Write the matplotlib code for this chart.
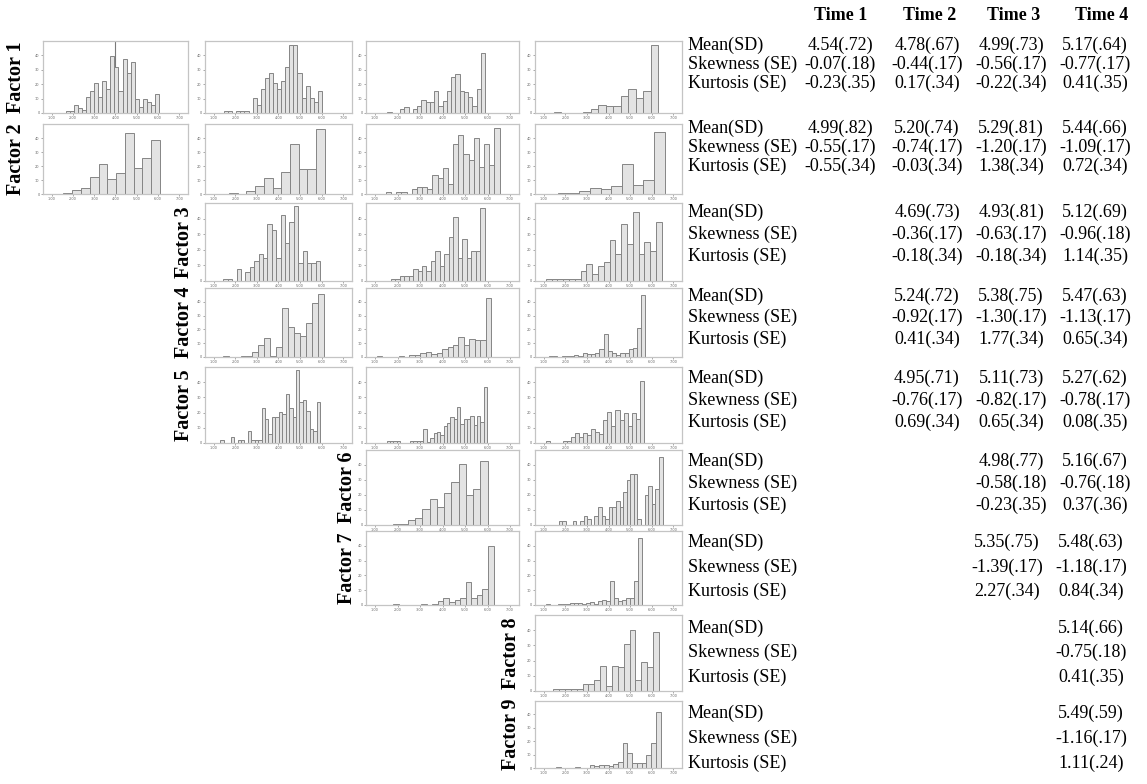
import matplotlib
matplotlib.use("Agg")
import matplotlib.pyplot as plt
import numpy as np

# bar heights (percent of panel height); bins span lo..hi
f1_t1 = [3, 3, 11, 7, 4, 22, 30, 41, 22, 45, 34, 79, 64, 31, 75, 56, 71, 19, 8, 19, 15, 11, 26]
f1_t2 = [3, 3, 0, 3, 3, 3, 0, 21, 11, 33, 49, 56, 41, 33, 45, 64, 94, 94, 56, 21, 37, 21, 15, 30]
f1_t3 = [2, 0, 0, 5, 8, 0, 5, 10, 18, 15, 15, 31, 10, 17, 31, 50, 54, 31, 29, 22, 10, 33, 83]
f1_t4 = [1, 0, 0, 0, 1.5, 5, 11, 10, 10, 24, 34, 21, 30, 94]
f2_t1 = [2, 6, 8, 24, 43, 21, 30, 87, 37, 52, 77]
f2_t2 = [1, 0, 5, 11, 23, 8, 31, 72, 36, 36, 93]
f2_t3 = [3, 0, 3, 3, 0, 7, 10, 10, 7, 27, 23, 37, 15, 72, 84, 57, 49, 80, 38, 72, 42, 95]
f2_t4 = [1, 1, 5, 9, 7, 12, 43, 13, 20, 88]
f3_t2 = [3, 3, 0, 15, 0, 11, 18, 26, 34, 30, 73, 65, 30, 85, 49, 76, 96, 23, 38, 23, 23, 26]
f3_t3 = [3, 3, 6, 6, 6, 16, 13, 19, 13, 26, 38, 19, 35, 57, 82, 29, 54, 29, 38, 38, 94]
f3_t4 = [3, 3, 3, 3, 3, 3, 13, 22, 9, 19, 25, 53, 35, 73, 48, 89, 35, 50, 38, 76]
f4_t2 = [2, 0, 0, 1, 2, 7, 17, 28, 2, 14, 71, 43, 35, 31, 49, 78, 92]
f4_t3 = [2, 0, 0, 0, 2, 0, 3, 3, 6, 7, 4, 6, 12, 15, 18, 29, 17, 26, 24, 25, 85]
f4_t4 = [1, 1, 0, 1, 1, 2, 3, 2, 6, 5, 5, 6, 12, 34, 9, 6, 3, 6, 6, 12, 13, 42, 90]
f5_t2 = [4, 0, 0, 8, 0, 4, 4, 0, 16, 4, 4, 4, 46, 31, 12, 34, 34, 41, 38, 65, 46, 34, 96, 54, 57, 42, 19, 16, 54]
f5_t3 = [3, 3, 3, 3, 0, 0, 0, 3, 3, 3, 3, 18, 1, 7, 13, 14, 10, 22, 26, 34, 32, 48, 25, 32, 32, 35, 24, 36, 27, 74]
f5_t4 = [3, 0, 0, 0, 3, 3, 8, 13, 8, 13, 10, 18, 14, 12, 30, 41, 22, 43, 30, 39, 22, 39, 31, 82]
f6_t3 = [2, 2, 7, 9, 21, 35, 24, 43, 57, 81, 40, 48, 86]
f6_t4 = [5, 5, 0, 0, 5, 0, 5, 12, 8, 0, 12, 24, 12, 8, 24, 24, 32, 24, 44, 60, 68, 68, 8, 0, 40, 52, 28, 48, 91]
f7_t3 = [1, 0, 0, 0, 0, 1, 0, 2, 5, 9, 4, 7, 9, 31, 10, 13, 21, 80]
f7_t4 = [1, 0, 0, 1, 1, 1, 3, 3, 3, 1, 3, 4, 1, 5, 7, 6, 33, 9, 5, 7, 9, 9, 33, 90]
f8_t4 = [2, 2, 2, 2, 2, 9, 9, 14, 33, 7, 33, 31, 62, 80, 14, 38, 31, 78]
f9_t4 = [2, 0, 0, 0, 2, 0, 0, 5, 3, 5, 5, 3, 6, 9, 37, 22, 7, 7, 7, 19, 38, 84]

# bin range (score units) for each histogram
ranges = {
    (1, 1): (1.67, 6.04), (1, 2): (1.48, 6.01), (1, 3): (1.55, 5.90), (1, 4): (1.46, 6.30),
    (2, 1): (1.56, 6.08), (2, 2): (1.70, 6.15), (2, 3): (1.48, 6.54), (2, 4): (1.67, 6.60),
    (3, 2): (1.45, 5.93), (3, 3): (1.70, 5.87), (3, 4): (1.10, 6.47),
    (4, 2): (1.42, 6.09), (4, 3): (1.08, 6.16), (4, 4): (1.25, 5.71),
    (5, 2): (1.31, 5.92), (5, 3): (1.52, 5.98), (5, 4): (1.12, 5.64),
    (6, 3): (1.81, 6.01), (6, 4): (1.69, 6.50),
    (7, 3): (1.81, 6.27), (7, 4): (1.12, 5.53),
    (8, 4): (1.44, 6.33), (9, 4): (1.59, 6.41),
}
heights = {
    (1, 1): f1_t1, (1, 2): f1_t2, (1, 3): f1_t3, (1, 4): f1_t4,
    (2, 1): f2_t1, (2, 2): f2_t2, (2, 3): f2_t3, (2, 4): f2_t4,
    (3, 2): f3_t2, (3, 3): f3_t3, (3, 4): f3_t4,
    (4, 2): f4_t2, (4, 3): f4_t3, (4, 4): f4_t4,
    (5, 2): f5_t2, (5, 3): f5_t3, (5, 4): f5_t4,
    (6, 3): f6_t3, (6, 4): f6_t4,
    (7, 3): f7_t3, (7, 4): f7_t4,
    (8, 4): f8_t4, (9, 4): f9_t4,
}
f1_t1_marker = 3.98

times = ["Time 1", "Time 2", "Time 3", "Time 4"]
stat_names = ["Mean(SD)", "Skewness (SE)", "Kurtosis (SE)"]
first_time = [1, 1, 2, 2, 2, 3, 3, 4, 4]
mean_sd = [
    ["4.54(.72)", "4.78(.67)", "4.99(.73)", "5.17(.64)"],
    ["4.99(.82)", "5.20(.74)", "5.29(.81)", "5.44(.66)"],
    ["4.69(.73)", "4.93(.81)", "5.12(.69)"],
    ["5.24(.72)", "5.38(.75)", "5.47(.63)"],
    ["4.95(.71)", "5.11(.73)", "5.27(.62)"],
    ["4.98(.77)", "5.16(.67)"],
    ["5.35(.75)", "5.48(.63)"],
    ["5.14(.66)"],
    ["5.49(.59)"],
]
skew_se = [
    ["-0.07(.18)", "-0.44(.17)", "-0.56(.17)", "-0.77(.17)"],
    ["-0.55(.17)", "-0.74(.17)", "-1.20(.17)", "-1.09(.17)"],
    ["-0.36(.17)", "-0.63(.17)", "-0.96(.18)"],
    ["-0.92(.17)", "-1.30(.17)", "-1.13(.17)"],
    ["-0.76(.17)", "-0.82(.17)", "-0.78(.17)"],
    ["-0.58(.18)", "-0.76(.18)"],
    ["-1.39(.17)", "-1.18(.17)"],
    ["-0.75(.18)"],
    ["-1.16(.17)"],
]
kurt_se = [
    ["-0.23(.35)", "0.17(.34)", "-0.22(.34)", "0.41(.35)"],
    ["-0.55(.34)", "-0.03(.34)", "1.38(.34)", "0.72(.34)"],
    ["-0.18(.34)", "-0.18(.34)", "1.14(.35)"],
    ["0.41(.34)", "1.77(.34)", "0.65(.34)"],
    ["0.69(.34)", "0.65(.34)", "0.08(.35)"],
    ["-0.23(.35)", "0.37(.36)"],
    ["2.27(.34)", "0.84(.34)"],
    ["0.41(.35)"],
    ["1.11(.24)"],
]

# layout in pixels
W, H = 1147, 784
col_px = [(43, 188), (205, 352), (366, 519), (535, 682)]
row_px = [(41, 113), (124, 194), (203, 281), (288, 357), (367, 443),
          (450, 525), (531, 605), (615, 691), (701, 768)]
label_x = [16, 16, 184, 184, 184, 347, 347, 511, 511]
text_rows = [(45, 64, 83), (128, 147, 166), (212, 234, 256), (296, 317, 339),
             (378, 400, 422), (461, 483, 505), (542, 567, 591), (628, 652, 677),
             (713, 738, 763)]
value_x = [840, 927, 1011, 1095]
header_x = [841, 930, 1014, 1102]

serif = ["Liberation Serif", "DejaVu Serif"]
fig = plt.figure(figsize=(W / 100, H / 100), dpi=100)

for (fac, t), hs in heights.items():
    x0, x1 = col_px[t - 1]
    y0, y1 = row_px[fac - 1]
    ax = fig.add_axes([x0 / W, 1 - y1 / H, (x1 - x0) / W, (y1 - y0) / H])
    lo, hi = ranges[(fac, t)]
    edges = np.linspace(lo, hi, len(hs) + 1)
    hs = np.array(hs, dtype=float)
    keep = hs > 0
    ax.bar(edges[:-1][keep], hs[keep], width=np.diff(edges)[keep], align="edge",
           color="#e3e3e3", edgecolor="#858585", linewidth=0.7, zorder=2)
    if (fac, t) == (1, 1):
        ax.axvline(f1_t1_marker, color="#7a7a7a", linewidth=0.8, zorder=1)
    ax.set_xlim(0.6, 7.4)
    ax.set_ylim(0, 100)
    ax.set_xticks(range(1, 8))
    ax.set_xticklabels([f"{v:.2f}" for v in range(1, 8)])
    ax.set_yticks([0, 20, 40, 60, 80])
    ax.set_yticklabels(["0", "10", "20", "30", "40"])
    ax.tick_params(length=1.5, width=0.4, labelsize=2.5, pad=1, colors="#666666")
    for s in ax.spines.values():
        s.set_color("#c4c4c4")
        s.set_linewidth(0.9)

for i in range(9):
    y0, y1 = row_px[i]
    fig.text(label_x[i] / W, 1 - (y0 + y1) / 2 / H, f"Factor {i + 1}", rotation=90,
             ha="center", va="center", fontsize=14.5, fontweight="bold", family=serif)

for j, t in enumerate(times):
    fig.text(header_x[j] / W, 1 - 16 / H, t, ha="center", va="center",
             fontsize=13, fontweight="bold", family=serif)

for i in range(9):
    block = [mean_sd[i], skew_se[i], kurt_se[i]]
    for k, name in enumerate(stat_names):
        y = 1 - text_rows[i][k] / H
        fig.text(688 / W, y, name, ha="left", va="center", fontsize=13, family=serif)
        for j, val in enumerate(block[k]):
            col = first_time[i] - 1 + j
            shift = -4 if i >= 6 else 0
            fig.text((value_x[col] + shift) / W, y, val, ha="center", va="center",
                     fontsize=13, family=serif)

fig.savefig("out.png", dpi=100, facecolor="white")
